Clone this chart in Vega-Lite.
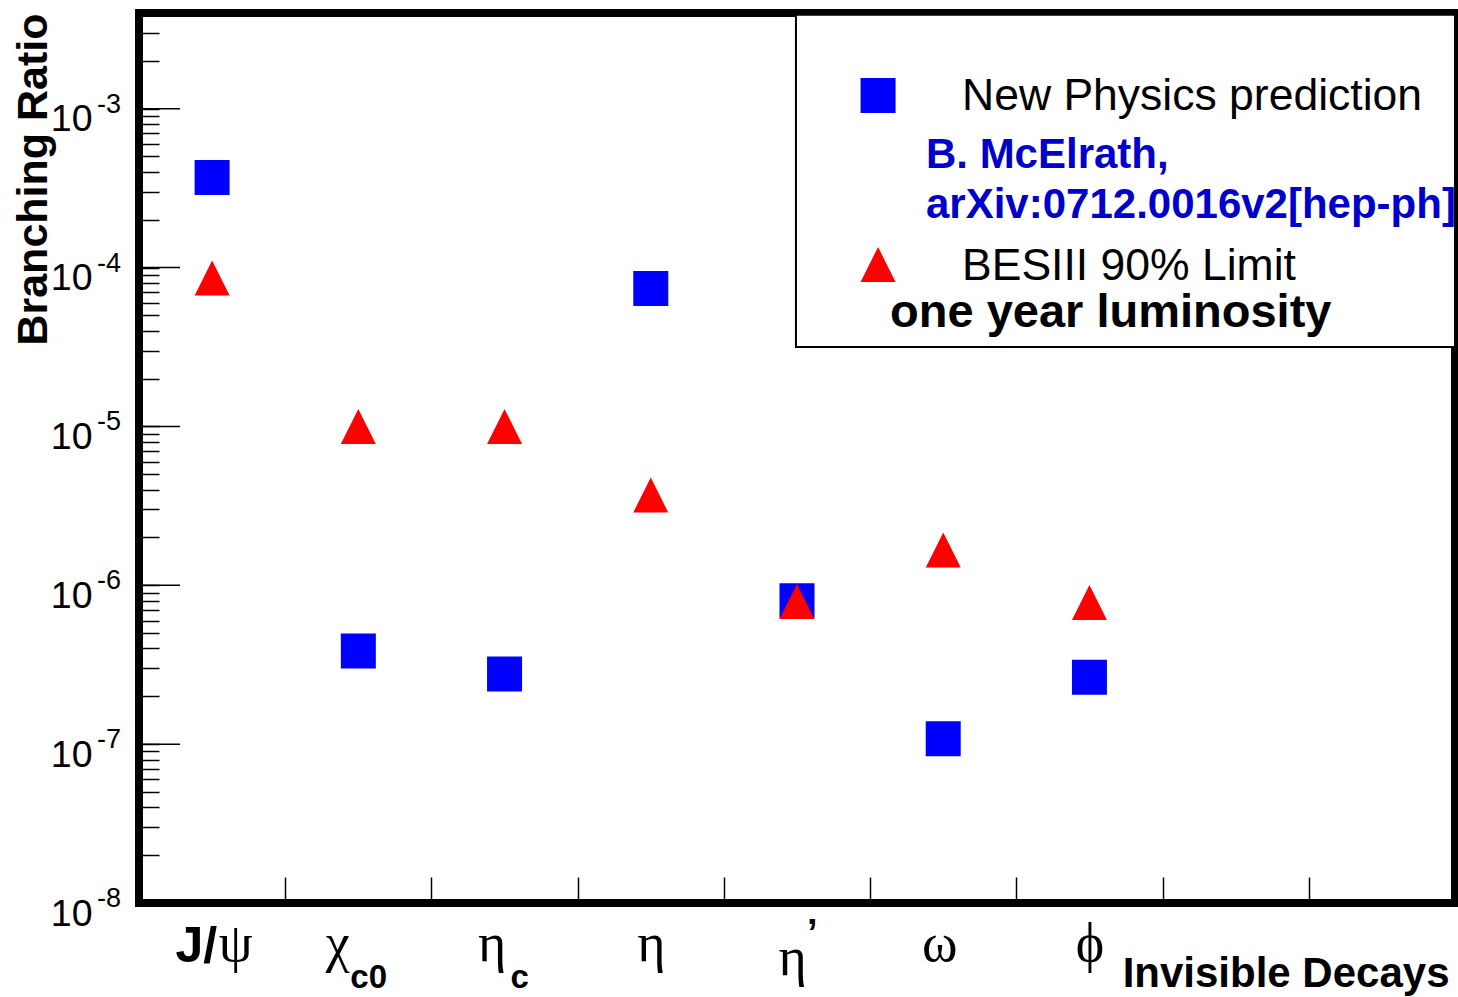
{
  "$schema": "https://vega.github.io/schema/vega-lite/v6.json",
  "width": 1316,
  "height": 890,
  "padding": {"left": 139, "top": 13, "right": 3, "bottom": 94},
  "autosize": {"type": "none"},
  "background": "white",
  "config": {
    "view": {"stroke": "black", "strokeWidth": 8},
    "font": "Liberation Sans"
  },
  "datasets": {
    "points": [
      {"particle": "J/ψ", "series": "New Physics prediction", "br": 3.68e-4},
      {"particle": "χc0", "series": "New Physics prediction", "br": 3.86e-7},
      {"particle": "ηc", "series": "New Physics prediction", "br": 2.76e-7},
      {"particle": "η", "series": "New Physics prediction", "br": 7.38e-5},
      {"particle": "η′", "series": "New Physics prediction", "br": 8.0e-7},
      {"particle": "ω", "series": "New Physics prediction", "br": 1.08e-7},
      {"particle": "φ", "series": "New Physics prediction", "br": 2.64e-7},
      {"particle": "J/ψ", "series": "BESIII 90% Limit", "br": 8.6e-5},
      {"particle": "χc0", "series": "BESIII 90% Limit", "br": 1.0e-5},
      {"particle": "ηc", "series": "BESIII 90% Limit", "br": 1.0e-5},
      {"particle": "η", "series": "BESIII 90% Limit", "br": 3.7e-6},
      {"particle": "η′", "series": "BESIII 90% Limit", "br": 7.9e-7},
      {"particle": "ω", "series": "BESIII 90% Limit", "br": 1.67e-6},
      {"particle": "φ", "series": "BESIII 90% Limit", "br": 7.8e-7}
    ],
    "powers": [
      {"decade": 1e-3, "exp": "-3"},
      {"decade": 1e-4, "exp": "-4"},
      {"decade": 1e-5, "exp": "-5"},
      {"decade": 1e-6, "exp": "-6"},
      {"decade": 1e-7, "exp": "-7"},
      {"decade": 1e-8, "exp": "-8"}
    ],
    "extras": [
      {"particle": "J/ψ", "part": "J/"},
      {"particle": "χc0", "part": "c0"},
      {"particle": "ηc", "part": "c"},
      {"particle": "η′", "part": "’"}
    ]
  },
  "layer": [
    {
      "layer": [
        {
          "data": {"name": "points"},
          "mark": {"type": "point", "filled": true, "size": 1225, "opacity": 1, "strokeWidth": 0},
          "encoding": {
            "x": {
              "field": "particle",
              "type": "nominal",
              "scale": {
                "type": "band",
                "domain": ["J/ψ", "χc0", "ηc", "η", "η′", "ω", "φ", "blank8", "blank9"],
                "paddingInner": 0,
                "paddingOuter": 0
              },
              "axis": {
                "title": "Invisible Decays",
                "titleFont": "Liberation Sans",
                "titleFontWeight": "bold",
                "titleFontSize": 42,
                "titleColor": "black",
                "titleAlign": "right",
                "titleBaseline": "alphabetic",
                "titleX": 1310,
                "titleY": 83,
                "domain": false,
                "grid": false,
                "ticks": true,
                "tickBand": "extent",
                "tickSize": -26,
                "tickWidth": 1.5,
                "tickColor": "black",
                "labelExpr": "datum.value === 'J/ψ' ? 'ψ' : datum.value === 'χc0' ? 'χ' : datum.value === 'ηc' ? 'η' : datum.value === 'η' ? 'η' : datum.value === 'η′' ? 'η' : datum.value === 'ω' ? 'ω' : datum.value === 'φ' ? 'ϕ' : ''",
                "labelFont": "Liberation Serif",
                "labelFontSize": 54,
                "labelColor": "black",
                "labelAngle": 0,
                "labelAlign": "center",
                "labelBaseline": "alphabetic",
                "labelOverlap": false,
                "labelPadding": {"condition": {"test": "datum.value === 'η′'", "value": 97}, "value": 83},
                "labelOffset": {
                  "condition": [
                    {"test": "datum.value === 'J/ψ'", "value": 23},
                    {"test": "datum.value === 'χc0'", "value": -21},
                    {"test": "datum.value === 'ηc'", "value": -13},
                    {"test": "datum.value === 'η′'", "value": -5},
                    {"test": "datum.value === 'ω'", "value": -4}
                  ],
                  "value": 0
                }
              }
            },
            "y": {
              "field": "br",
              "type": "quantitative",
              "title": "Branching Ratio",
              "scale": {"type": "log", "domain": [1e-8, 4e-3], "nice": false},
              "axis": {
                "values": [1e-8, 2e-8, 3e-8, 4e-8, 5e-8, 6e-8, 7e-8, 8e-8, 9e-8,
                           1e-7, 2e-7, 3e-7, 4e-7, 5e-7, 6e-7, 7e-7, 8e-7, 9e-7,
                           1e-6, 2e-6, 3e-6, 4e-6, 5e-6, 6e-6, 7e-6, 8e-6, 9e-6,
                           1e-5, 2e-5, 3e-5, 4e-5, 5e-5, 6e-5, 7e-5, 8e-5, 9e-5,
                           1e-4, 2e-4, 3e-4, 4e-4, 5e-4, 6e-4, 7e-4, 8e-4, 9e-4,
                           1e-3, 2e-3, 3e-3],
                "domain": false,
                "grid": false,
                "tickSize": -20,
                "tickWidth": 1.5,
                "tickColor": "black",
                "labelExpr": "abs(log(datum.value) / LN10 - round(log(datum.value) / LN10)) < 0.001 ? '10' : ''",
                "labelFont": "Liberation Sans",
                "labelFontSize": 37.5,
                "labelColor": "black",
                "labelAlign": "right",
                "labelBaseline": "alphabetic",
                "labelOffset": 22,
                "labelPadding": 67,
                "labelOverlap": false,
                "labelFlush": false,
                "titleFont": "Liberation Sans",
                "titleFontWeight": "bold",
                "titleFontSize": 43,
                "titleColor": "black",
                "titleAngle": -90,
                "titleAlign": "right",
                "titleBaseline": "alphabetic",
                "titleX": -93,
                "titleY": 0
              }
            },
            "shape": {
              "field": "series",
              "type": "nominal",
              "scale": {"domain": ["New Physics prediction", "BESIII 90% Limit"], "range": ["square", "M0,-1L1,1L-1,1Z"]},
              "legend": null
            },
            "color": {
              "field": "series",
              "type": "nominal",
              "scale": {"domain": ["New Physics prediction", "BESIII 90% Limit"], "range": ["#0000ff", "#ff0000"]},
              "legend": null
            }
          }
        },
        {
          "data": {"name": "extras"},
          "transform": [{"filter": "datum.particle === 'J/ψ'"}],
          "mark": {"type": "text", "align": "right", "baseline": "alphabetic", "dx": 5, "dy": 59, "font": "Liberation Sans", "fontWeight": "bold", "fontSize": 50, "color": "black"},
          "encoding": {
            "x": {"field": "particle", "type": "nominal"},
            "y": {"datum": 1e-8, "type": "quantitative"},
            "text": {"field": "part"}
          }
        },
        {
          "data": {"name": "extras"},
          "transform": [{"filter": "datum.particle === 'χc0'"}],
          "mark": {"type": "text", "align": "left", "baseline": "alphabetic", "dx": -8, "dy": 85, "font": "Liberation Sans", "fontWeight": "bold", "fontSize": 33, "color": "black"},
          "encoding": {
            "x": {"field": "particle", "type": "nominal"},
            "y": {"datum": 1e-8, "type": "quantitative"},
            "text": {"field": "part"}
          }
        },
        {
          "data": {"name": "extras"},
          "transform": [{"filter": "datum.particle === 'ηc'"}],
          "mark": {"type": "text", "align": "left", "baseline": "alphabetic", "dx": 6, "dy": 85, "font": "Liberation Sans", "fontWeight": "bold", "fontSize": 33, "color": "black"},
          "encoding": {
            "x": {"field": "particle", "type": "nominal"},
            "y": {"datum": 1e-8, "type": "quantitative"},
            "text": {"field": "part"}
          }
        },
        {
          "data": {"name": "extras"},
          "transform": [{"filter": "datum.particle === 'η′'"}],
          "mark": {"type": "text", "align": "left", "baseline": "alphabetic", "dx": 10, "dy": 43, "font": "Liberation Sans", "fontWeight": "bold", "fontSize": 38, "color": "black"},
          "encoding": {
            "x": {"field": "particle", "type": "nominal"},
            "y": {"datum": 1e-8, "type": "quantitative"},
            "text": {"field": "part"}
          }
        }
      ]
    },
    {
      "layer": [
        {
          "data": {"name": "powers"},
          "mark": {"type": "rule", "color": "black", "strokeWidth": 1.5},
          "encoding": {
            "x": {"datum": 0, "type": "quantitative", "scale": {"domain": [0, 1], "nice": false, "zero": false}, "axis": null},
            "x2": {"datum": 0.0312},
            "y": {"field": "decade", "type": "quantitative", "scale": {"type": "log", "domain": [1e-8, 4e-3], "nice": false}}
          }
        },
        {
          "data": {"name": "powers"},
          "mark": {"type": "text", "align": "right", "baseline": "alphabetic", "dx": -18, "dy": 4, "font": "Liberation Sans", "fontSize": 27, "color": "black"},
          "encoding": {
            "x": {"datum": 0, "type": "quantitative", "scale": {"domain": [0, 1], "nice": false, "zero": false}, "axis": null},
            "y": {"field": "decade", "type": "quantitative", "scale": {"type": "log", "domain": [1e-8, 4e-3], "nice": false}},
            "text": {"field": "exp"}
          }
        },
        {
          "data": {"values": [{}]},
          "mark": {"type": "rect", "fill": "white", "stroke": "black", "strokeWidth": 2},
          "encoding": {
            "x": {"datum": 0.4992, "type": "quantitative", "scale": {"domain": [0, 1], "nice": false, "zero": false}, "axis": null},
            "x2": {"datum": 1.0},
            "y": {"datum": 3.16e-5, "type": "quantitative", "scale": {"type": "log", "domain": [1e-8, 4e-3], "nice": false}},
            "y2": {"datum": 3.9e-3}
          }
        },
        {
          "data": {"values": [{}]},
          "mark": {"type": "point", "shape": "square", "filled": true, "size": 1225, "color": "#0000ff", "opacity": 1, "strokeWidth": 0},
          "encoding": {
            "x": {"datum": 0.5616, "type": "quantitative", "scale": {"domain": [0, 1], "nice": false, "zero": false}, "axis": null},
            "y": {"datum": 1.21e-3, "type": "quantitative", "scale": {"type": "log", "domain": [1e-8, 4e-3], "nice": false}}
          }
        },
        {
          "data": {"values": [{}]},
          "mark": {"type": "point", "shape": "M0,-1L1,1L-1,1Z", "filled": true, "size": 1225, "color": "#ff0000", "opacity": 1, "strokeWidth": 0},
          "encoding": {
            "x": {"datum": 0.5616, "type": "quantitative", "scale": {"domain": [0, 1], "nice": false, "zero": false}, "axis": null},
            "y": {"datum": 1.045e-4, "type": "quantitative", "scale": {"type": "log", "domain": [1e-8, 4e-3], "nice": false}}
          }
        },
        {
          "data": {"values": [{}]},
          "mark": {"type": "text", "text": "New Physics prediction", "align": "left", "baseline": "alphabetic", "font": "Liberation Sans", "fontSize": 44.5, "color": "black"},
          "encoding": {
            "x": {"datum": 0.6254, "type": "quantitative", "scale": {"domain": [0, 1], "nice": false, "zero": false}, "axis": null},
            "y": {"datum": 9.81e-4, "type": "quantitative", "scale": {"type": "log", "domain": [1e-8, 4e-3], "nice": false}}
          }
        },
        {
          "data": {"values": [{}]},
          "mark": {"type": "text", "text": "B. McElrath,", "align": "left", "baseline": "alphabetic", "font": "Liberation Sans", "fontWeight": "bold", "fontSize": 42, "color": "#0000cc"},
          "encoding": {
            "x": {"datum": 0.598, "type": "quantitative", "scale": {"domain": [0, 1], "nice": false, "zero": false}, "axis": null},
            "y": {"datum": 4.23e-4, "type": "quantitative", "scale": {"type": "log", "domain": [1e-8, 4e-3], "nice": false}}
          }
        },
        {
          "data": {"values": [{}]},
          "mark": {"type": "text", "text": "arXiv:0712.0016v2[hep-ph]", "align": "left", "baseline": "alphabetic", "font": "Liberation Sans", "fontWeight": "bold", "fontSize": 42, "color": "#0000cc"},
          "encoding": {
            "x": {"datum": 0.598, "type": "quantitative", "scale": {"domain": [0, 1], "nice": false, "zero": false}, "axis": null},
            "y": {"datum": 2.05e-4, "type": "quantitative", "scale": {"type": "log", "domain": [1e-8, 4e-3], "nice": false}}
          }
        },
        {
          "data": {"values": [{}]},
          "mark": {"type": "text", "text": "BESIII 90% Limit", "align": "left", "baseline": "alphabetic", "font": "Liberation Sans", "fontSize": 44.5, "color": "black"},
          "encoding": {
            "x": {"datum": 0.6254, "type": "quantitative", "scale": {"domain": [0, 1], "nice": false, "zero": false}, "axis": null},
            "y": {"datum": 8.34e-5, "type": "quantitative", "scale": {"type": "log", "domain": [1e-8, 4e-3], "nice": false}}
          }
        },
        {
          "data": {"values": [{}]},
          "mark": {"type": "text", "text": "one year luminosity", "align": "left", "baseline": "alphabetic", "font": "Liberation Sans", "fontWeight": "bold", "fontSize": 47, "color": "black"},
          "encoding": {
            "x": {"datum": 0.5707, "type": "quantitative", "scale": {"domain": [0, 1], "nice": false, "zero": false}, "axis": null},
            "y": {"datum": 4.2e-5, "type": "quantitative", "scale": {"type": "log", "domain": [1e-8, 4e-3], "nice": false}}
          }
        }
      ]
    }
  ],
  "resolve": {"scale": {"x": "independent"}}
}
